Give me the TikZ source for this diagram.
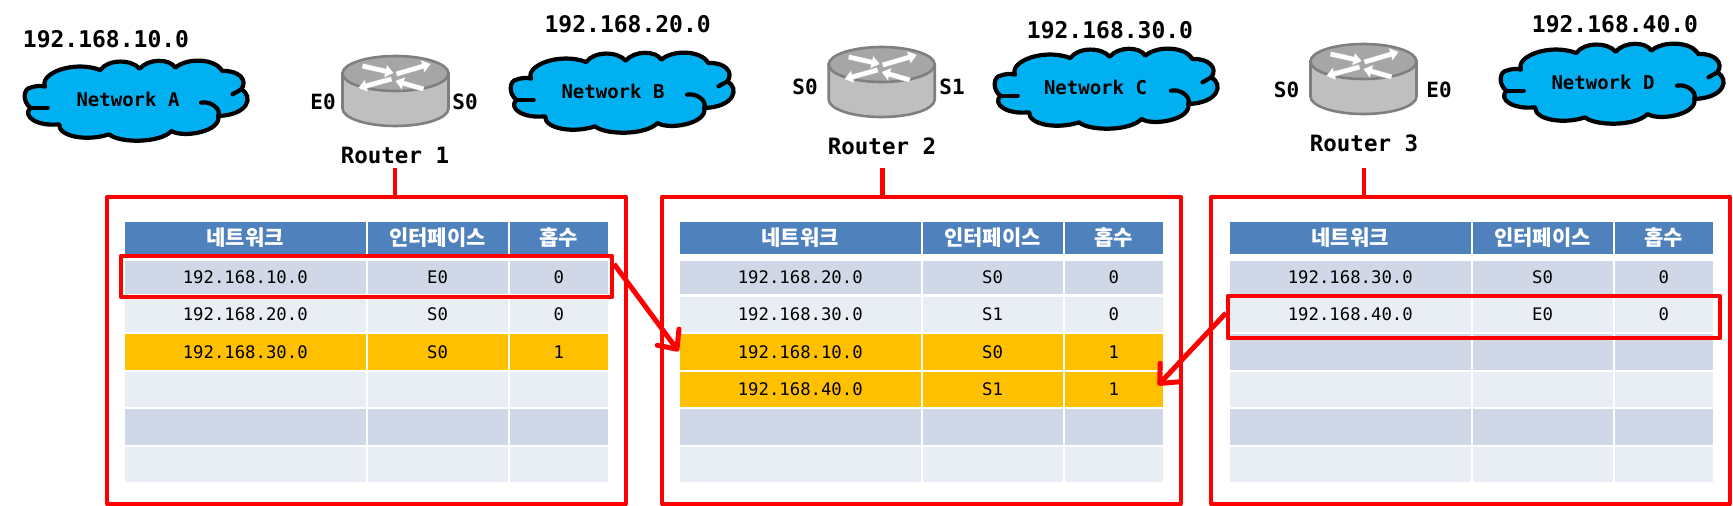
\documentclass[tikz,border=0pt]{standalone}
\usepackage{fontspec}
\usetikzlibrary{arrows.meta}
\newfontfamily\consfont{DejaVu Sans Mono}
\newfontfamily\korfont{Noto Sans CJK KR}
\definecolor{hdrblue}{HTML}{4F81BD}
\definecolor{rowdark}{HTML}{D0D8E8}
\definecolor{rowlight}{HTML}{E9EDF4}
\definecolor{roworange}{HTML}{FFC000}
\definecolor{cloudblue}{HTML}{00B0F0}
\definecolor{redline}{HTML}{FF0000}
\definecolor{rtop}{HTML}{A6A6A6}
\definecolor{rside}{HTML}{BFBFBF}
\definecolor{rline}{HTML}{7F7F7F}
\tikzset{
  cellbox/.style={inner sep=0pt,outer sep=0pt,draw=none,font=\consfont\fontsize{17.3}{20}\selectfont,text=black},
  hdrbox/.style={cellbox,fill=hdrblue,text=white,font=\korfont\bfseries\fontsize{21}{24}\selectfont},
  netlabel/.style={inner sep=0pt,font=\consfont\bfseries\fontsize{23}{26}\selectfont},
  cloudtext/.style={inner sep=0pt,font=\consfont\bfseries\fontsize{19}{22}\selectfont},
  routerlabel/.style={inner sep=0pt,font=\consfont\bfseries\fontsize{22.5}{26}\selectfont},
  portlabel/.style={inner sep=0pt,font=\consfont\bfseries\fontsize{21}{24}\selectfont},
  framebox/.style={draw=redline,line width=4.4pt,inner sep=0pt,line join=round,fill=none},
  redarrow/.style={draw=redline,line width=5pt,-{Straight Barb[length=15pt,width=27pt,line width=5pt,round]}},
  redstub/.style={draw=redline,line width=4.6pt},
  cloudline/.style={draw=black,line width=4.2pt,line join=round,line cap=round},
  rarrowedge/.style={draw=rline!60,line width=6pt,-{Triangle[length=9pt,width=14pt]}},
  rarrowfill/.style={draw=white,line width=4.6pt,-{Triangle[length=8pt,width=11.5pt]}},
}
% name x0 x1 y0 y1 fill style text
\newcommand{\cellnode}[8]{%
  \pgfmathsetmacro{\cw}{#3-#2}\pgfmathsetmacro{\ch}{#5-#4}%
  \pgfmathsetmacro{\cx}{(#2+#3)/2}\pgfmathsetmacro{\cy}{(#4+#5)/2}%
  \node[#7,fill=#6,minimum width=\cw pt,minimum height=\ch pt] (#1) at (\cx,\cy) {#8};}
% table prefix, row, y0, y1, fill, a, b, c ; x offset in \tx
\newcommand{\trow}[8]{%
  \pgfmathsetmacro{\xa}{125+\tx}\pgfmathsetmacro{\xb}{365.5+\tx}\pgfmathsetmacro{\xc}{367.5+\tx}%
  \pgfmathsetmacro{\xd}{507.5+\tx}\pgfmathsetmacro{\xe}{509.5+\tx}\pgfmathsetmacro{\xf}{608+\tx}%
  \cellnode{#1#2a}{\xa}{\xb}{#3}{#4}{#5}{cellbox}{#6}%
  \cellnode{#1#2b}{\xc}{\xd}{#3}{#4}{#5}{cellbox}{#7}%
  \cellnode{#1#2c}{\xe}{\xf}{#3}{#4}{#5}{cellbox}{#8}}
\newcommand{\thead}[1]{%
  \pgfmathsetmacro{\xa}{125+\tx}\pgfmathsetmacro{\xb}{365.5+\tx}\pgfmathsetmacro{\xc}{367.5+\tx}%
  \pgfmathsetmacro{\xd}{507.5+\tx}\pgfmathsetmacro{\xe}{509.5+\tx}\pgfmathsetmacro{\xf}{608+\tx}%
  \cellnode{#1ha}{\xa}{\xb}{222}{254}{hdrblue}{hdrbox}{네트워크}%
  \cellnode{#1hb}{\xc}{\xd}{222}{254}{hdrblue}{hdrbox}{인터페이스}%
  \cellnode{#1hc}{\xe}{\xf}{222}{254}{hdrblue}{hdrbox}{홉수}}
% cloud: x0 y0, text drawn separately
\newcommand{\cloudshape}[2]{%
  \begin{scope}[shift={(#1,#2)},x=0.3834pt,y=-0.3333pt]
    \draw[cloudline,fill=cloudblue]
      (60,80) .. controls (45,40) and (135,0) .. (204,30)
      .. controls (225,-3) and (285,-3) .. (307,26)
      .. controls (330,-5) and (385,-5) .. (400,23)
      .. controls (430,-8) and (505,-5) .. (522,33)
      .. controls (565,30) and (590,60) .. (572,88)
      .. controls (605,110) and (590,165) .. (512,168)
      .. controls (520,215) and (420,235) .. (390,213)
      .. controls (360,250) and (255,250) .. (227,223)
      .. controls (170,245) and (95,230) .. (97,193)
      .. controls (40,200) and (0,170) .. (22,143)
      .. controls (0,125) and (4,85) .. (22,83)
      .. controls (32,78) and (50,76) .. (60,80) -- cycle;
    \draw[cloudline] (549,103) -- (572,88);
    \draw[cloudline] (467,128) .. controls (490,122) and (520,145) .. (512,168);
    \draw[cloudline] (22,143) -- (67,143);
  \end{scope}}
\newcommand{\routerarrow}[4]{%
  \draw[rarrowedge] (#1,#2) -- (#3,#4);
  \draw[rarrowfill] (#1,#2) -- (#3,#4);}
% name, centre x, top y
\newcommand{\routershape}[3]{%
  \begin{scope}[shift={(#2,#3)}]
    \coordinate (#1) at (0,35);
    \draw[draw=rline,fill=rside,line width=2.6pt]
      (-53,17.5) -- (-53,52.5) arc[start angle=180,end angle=360,x radius=53,y radius=-17.5]
      -- (53,17.5) -- cycle;
    \draw[draw=rline,fill=rtop,line width=2.6pt] (0,17.5) ellipse[x radius=53,y radius=17.5];
    \routerarrow{-33}{10}{-2}{17}
    \routerarrow{1}{18}{35}{8}
    \routerarrow{-4}{23}{-37}{32}
    \routerarrow{28}{33}{0}{25}
  \end{scope}}
\begin{document}
\begin{tikzpicture}[x=1pt,y=-1pt]
\useasboundingbox (0,0) rectangle (1733,506);
\fill[white] (0,0) rectangle (1733,506);

% tables
\def\tx{0}
\thead{ta}
\trow{ta}{1}{261}{294}{rowdark}{192.168.10.0}{E0}{0}
\trow{ta}{2}{297}{332}{rowlight}{192.168.20.0}{S0}{0}
\trow{ta}{3}{334}{369.5}{roworange}{192.168.30.0}{S0}{1}
\trow{ta}{4}{371.5}{407}{rowlight}{}{}{}
\trow{ta}{5}{409}{444.5}{rowdark}{}{}{}
\trow{ta}{6}{446.5}{482}{rowlight}{}{}{}
\def\tx{555}
\thead{tb}
\trow{tb}{1}{261}{294}{rowdark}{192.168.20.0}{S0}{0}
\trow{tb}{2}{297}{332}{rowlight}{192.168.30.0}{S1}{0}
\trow{tb}{3}{334}{369.5}{roworange}{192.168.10.0}{S0}{1}
\trow{tb}{4}{371.5}{407}{roworange}{192.168.40.0}{S1}{1}
\trow{tb}{5}{409}{444.5}{rowdark}{}{}{}
\trow{tb}{6}{446.5}{482}{rowlight}{}{}{}
\def\tx{1105}
\thead{tc}
\trow{tc}{1}{261}{294}{rowdark}{192.168.30.0}{S0}{0}
\trow{tc}{2}{297}{332}{rowlight}{192.168.40.0}{E0}{0}
\trow{tc}{3}{334}{369.5}{rowdark}{}{}{}
\trow{tc}{4}{371.5}{407}{rowlight}{}{}{}
\trow{tc}{5}{409}{444.5}{rowdark}{}{}{}
\trow{tc}{6}{446.5}{482}{rowlight}{}{}{}

% clouds
\cloudshape{22}{60}
\cloudshape{508}{52}
\cloudshape{992}{48}
\cloudshape{1498}{43}
\node[cloudtext] (neta) at (128,99) {Network A};
\node[cloudtext] (netb) at (613,91) {Network B};
\node[cloudtext] (netc) at (1095.5,87) {Network C};
\node[cloudtext] (netd) at (1603,82) {Network D};
\node[netlabel] (ipa) at (106,39) {192.168.10.0};
\node[netlabel] (ipb) at (627.7,24) {192.168.20.0};
\node[netlabel] (ipc) at (1110,30) {192.168.30.0};
\node[netlabel] (ipd) at (1615,24) {192.168.40.0};

% routers
\routershape{ra}{395.5}{56}
\routershape{rb}{881.7}{47}
\routershape{rc}{1363.5}{44}
\node[routerlabel] (la) at (395,155) {Router 1};
\node[routerlabel] (lb) at (882,146) {Router 2};
\node[routerlabel] (lc) at (1364,143) {Router 3};
\node[portlabel] (pa1) at (323,102) {E0};
\node[portlabel] (pa2) at (465,102) {S0};
\node[portlabel] (pb1) at (805,87) {S0};
\node[portlabel] (pb2) at (952,87) {S1};
\node[portlabel] (pc1) at (1286.6,90) {S0};
\node[portlabel] (pc2) at (1439,90) {E0};

% frames
\node[framebox,minimum width=519pt,minimum height=306.5pt] (fa) at (366.5,350.5) {};
\node[framebox,minimum width=519pt,minimum height=306.5pt] (fb) at (921.5,350.5) {};
\node[framebox,minimum width=519pt,minimum height=306.5pt] (fc) at (1470.5,350.5) {};
\node[framebox,minimum width=491pt,minimum height=41pt] (ha) at (366.5,276.5) {};
\node[framebox,minimum width=492pt,minimum height=42pt] (hc) at (1474,317) {};

% stubs
\coordinate (sa) at (395,168);
\coordinate (sb) at (882.6,168);
\coordinate (sc) at (1364,168);
\draw[redstub] (sa) -- (sa |- fa.north);
\draw[redstub] (sb) -- (sb |- fb.north);
\draw[redstub] (sc) -- (sc |- fc.north);

% arrows
\coordinate (aa) at (614,264);
\coordinate (ab) at (1226,313);
\draw[redarrow] (aa) -- ([xshift=-1.5pt,yshift=0.5pt]tb3a.west);
\draw[redarrow] (ab) -- ([xshift=-5pt,yshift=4pt]tb4c.east);
\end{tikzpicture}
\end{document}
